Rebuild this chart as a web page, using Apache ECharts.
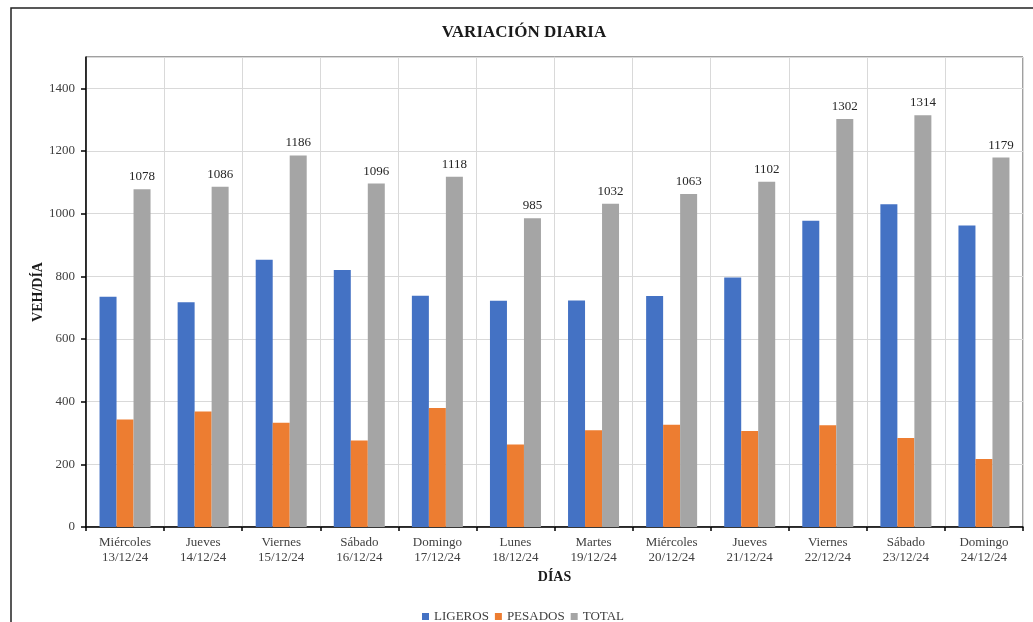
<!DOCTYPE html>
<html>
<head>
<meta charset="utf-8">
<script src="https://cdn.jsdelivr.net/npm/echarts@6/dist/echarts.min.js"></script>
<style>
html,body{margin:0;padding:0;background:#fff;}
#c{width:1033px;height:622px;}
</style>
</head>
<body>
<div id="c"></div>
<script>
const categories = ['Miércoles\n13/12/24','Jueves\n14/12/24','Viernes\n15/12/24','Sábado\n16/12/24','Domingo\n17/12/24','Lunes\n18/12/24','Martes\n19/12/24','Miércoles\n20/12/24','Jueves\n21/12/24','Viernes\n22/12/24','Sábado\n23/12/24','Domingo\n24/12/24'];
const ligeros = [735,717,853,820,738,722,723,737,796,977,1030,962];
const pesados = [343,369,333,276,380,263,309,326,306,325,284,217];
const total = [1078,1086,1186,1096,1118,985,1032,1063,1102,1302,1314,1179];
const yTicks = [0,200,400,600,800,1000,1200,1400];

const FONT = '"Liberation Serif","Times New Roman",serif';
const chart = echarts.init(document.getElementById('c'));
chart.setOption({
  animation:false,
  textStyle:{fontFamily:FONT},
  title:{text:'VARIACIÓN DIARIA',left:519,top:19,textAlign:'center',
    textStyle:{fontFamily:FONT,fontWeight:'bold',fontSize:17,color:'#1a1a1a'}},
  graphic:[{type:'rect',shape:{x:11,y:8,width:1100,height:700},
    style:{fill:'none',stroke:'#222',lineWidth:1.5},silent:true,z:-1}],
  legend:{top:605,left:417,itemWidth:7,itemHeight:7,itemGap:6,icon:'rect',
    textStyle:{fontFamily:FONT,fontSize:13,color:'#404040'},
    data:['LIGEROS','PESADOS','TOTAL']},
  grid:{left:86,top:57,right:10,bottom:95,show:true,borderColor:'#404040',borderWidth:1},
  xAxis:{type:'category',data:categories,
    name:'DÍAS',nameLocation:'middle',nameGap:43,nameMoveOverlap:false,
    nameTextStyle:{fontFamily:FONT,fontWeight:'bold',fontSize:14,color:'#1a1a1a'},
    axisLine:{lineStyle:{color:'#000',width:1.5}},
    axisTick:{show:true,length:4,lineStyle:{color:'#000',width:1.5}},
    splitLine:{show:true,lineStyle:{color:'#d9d9d9',width:1}},
    axisLabel:{fontFamily:FONT,fontSize:13,color:'#404040',lineHeight:15,margin:8,interval:0}},
  yAxis:{type:'value',min:0,max:1500,interval:200,
    name:'VEH/DÍA',nameLocation:'middle',nameGap:41,nameRotate:90,nameMoveOverlap:false,
    nameTextStyle:{fontFamily:FONT,fontWeight:'bold',fontSize:14,color:'#1a1a1a'},
    axisLine:{show:true,lineStyle:{color:'#000',width:1.5}},
    axisTick:{show:true,length:5,lineStyle:{color:'#000',width:1.5}},
    splitLine:{show:true,lineStyle:{color:'#d9d9d9',width:1}},
    axisLabel:{fontFamily:FONT,fontSize:13,color:'#404040',margin:11,showMaxLabel:false,
      formatter:function(v){return yTicks.indexOf(v)>=0?String(v):'';}}},
  series:[
    {name:'LIGEROS',type:'bar',data:ligeros,barWidth:17,barGap:'0%',itemStyle:{color:'#4472C4'}},
    {name:'PESADOS',type:'bar',data:pesados,barWidth:17,barGap:'0%',itemStyle:{color:'#ED7D31'}},
    {name:'TOTAL',type:'bar',data:total,barWidth:17,barGap:'0%',itemStyle:{color:'#A5A5A5'},
      label:{show:true,position:'top',distance:6,fontFamily:FONT,fontSize:13,color:'#262626'}}
  ]
});
</script>
</body>
</html>
